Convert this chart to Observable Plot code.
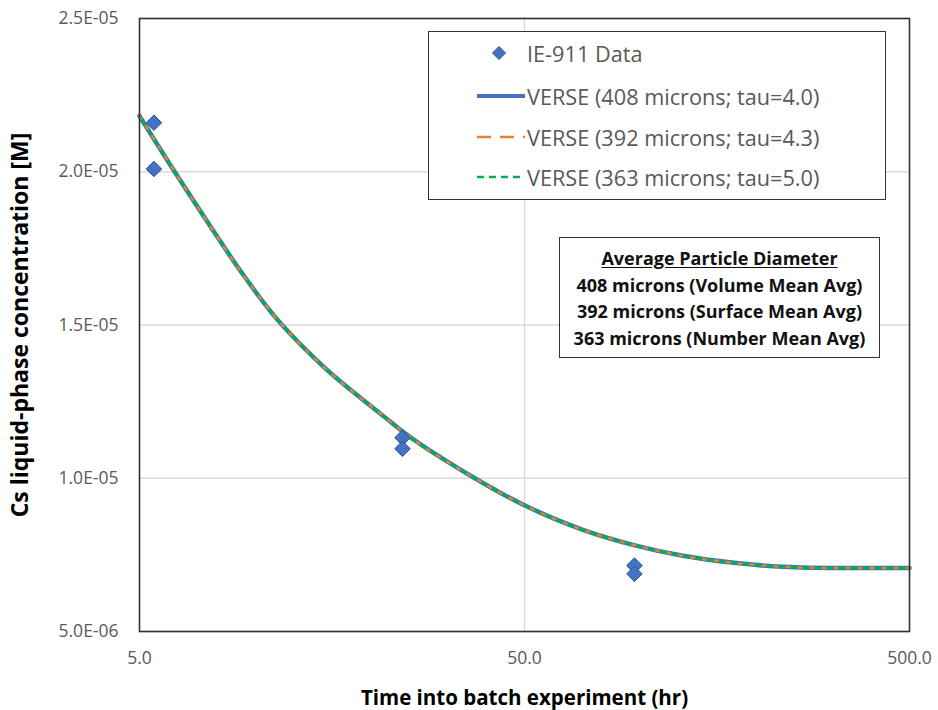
<!DOCTYPE html>
<html>
<head>
<meta charset="utf-8">
<script src="https://cdn.jsdelivr.net/npm/d3@7"></script>
<script src="https://cdn.jsdelivr.net/npm/@observablehq/plot@0.6"></script>
<style>
  body { margin: 0; background: #fff; }
  #wrap { position: relative; width: 938px; height: 710px; font-family: "Open Sans", sans-serif; }
  #wrap svg { font-family: "Open Sans", sans-serif; }
  .legend { position: absolute; left: 428px; top: 31px; width: 458px; height: 169px; border: 1.5px solid #333; background: #fff; box-sizing: border-box; }
  .legend .row { position: absolute; left: 46px; height: 24px; display: flex; align-items: center; color: #595959; font-size: 21.7px; white-space: nowrap; }
  .legend .row svg { width: 52px; height: 24px; flex: none; }
  .note { position: absolute; left: 559px; top: 237px; width: 321px; height: 121px; border: 1.5px solid #333; background: #fff; box-sizing: border-box; text-align: center; font-weight: bold; font-size: 18px; color: #111; padding-top: 7px; line-height: 26.7px; white-space: nowrap; }
  .note u { text-underline-offset: 2px; }
</style>
</head>
<body>
<div id="wrap"></div>
<script>
// Model curves (time in hr, Cs concentration in M)
const modelTime = [5.0, 6.13, 7.51, 9.15, 11.14, 14.76, 21.8, 23.8, 35.6, 50.3, 71.2, 96.2, 129, 175, 235, 318, 500];
const verse408 = [2.182e-5, 2.0055e-5, 1.836e-5, 1.676e-5, 1.533e-5, 1.373e-5, 1.197e-5, 1.158e-5, 1.014e-5, 9.10e-6, 8.31e-6, 7.82e-6, 7.47e-6, 7.24e-6, 7.11e-6, 7.07e-6, 7.07e-6];
const verse392 = [2.182e-5, 2.0055e-5, 1.836e-5, 1.676e-5, 1.533e-5, 1.373e-5, 1.197e-5, 1.158e-5, 1.014e-5, 9.10e-6, 8.31e-6, 7.82e-6, 7.47e-6, 7.24e-6, 7.11e-6, 7.07e-6, 7.07e-6];
const verse363 = [2.182e-5, 2.0055e-5, 1.836e-5, 1.676e-5, 1.533e-5, 1.373e-5, 1.197e-5, 1.158e-5, 1.014e-5, 9.10e-6, 8.31e-6, 7.82e-6, 7.47e-6, 7.24e-6, 7.11e-6, 7.07e-6, 7.07e-6];

// IE-911 experimental data
const dataTime = [5.45, 5.45, 24.1, 24.1, 96.5, 96.5];
const dataConc = [2.16e-5, 2.009e-5, 1.132e-5, 1.096e-5, 7.15e-6, 6.88e-6];

// Axis ticks
const xTicks = [5, 50, 500];
const yTicks = [5e-6, 1e-5, 1.5e-5, 2e-5, 2.5e-5];

const seriesNames = ["VERSE (408 microns; tau=4.0)", "VERSE (392 microns; tau=4.3)", "VERSE (363 microns; tau=5.0)"];
const seriesColors = ["#4472C4", "#ED7D31", "#00B050"];

const mk = (ys) => modelTime.map((t, i) => ({t, c: ys[i]}));
const pts = dataTime.map((t, i) => ({t, c: dataConc[i]}));

const fmtY = d => {
  const [m, e] = d.toExponential(1).toUpperCase().split("E");
  const sign = e[0] === "-" ? "-" : "+";
  const digits = e.replace(/[-+]/, "").padStart(2, "0");
  return `${m}E${sign}${digits}`;
};

const chart = Plot.plot({
  width: 938,
  height: 710,
  marginLeft: 139,
  marginRight: 29,
  marginTop: 18,
  marginBottom: 79,
  x: {type: "log", domain: [5, 500]},
  y: {domain: [5e-6, 2.5e-5]},
  marks: [
    Plot.gridY(yTicks, {stroke: "#d9d9d9", strokeOpacity: 1, strokeWidth: 1.3}),
    Plot.gridX([50], {stroke: "#d9d9d9", strokeOpacity: 1, strokeWidth: 1.3}),
    Plot.axisX(xTicks, {tickFormat: d => d.toFixed(1), tickSize: 0, tickPadding: 20, fontSize: 17.5, color: "#595959", label: null}),
    Plot.axisY(yTicks, {tickFormat: fmtY, tickSize: 0, tickPadding: 21, fontSize: 17.5, color: "#595959", label: null}),
    Plot.axisX({ticks: [], label: "Time into batch experiment (hr)", labelAnchor: "center", labelArrow: "none", labelOffset: 73, fontSize: 20.5, fontWeight: "bold", color: "#000"}),
    Plot.axisY({ticks: [], label: "Cs liquid-phase concentration [M]", labelAnchor: "center", labelArrow: "none", labelOffset: 128, fontSize: 23, fontWeight: "bold", color: "#000"}),
    Plot.line(mk(verse408), {x: "t", y: "c", stroke: seriesColors[0], strokeWidth: 4.5, curve: "monotone-x"}),
    Plot.line(mk(verse363), {x: "t", y: "c", stroke: seriesColors[2], strokeWidth: 3, strokeDasharray: "6 3", curve: "monotone-x"}),
    Plot.line(mk(verse392), {x: "t", y: "c", stroke: seriesColors[1], strokeWidth: 2.5, strokeDasharray: "3 9", curve: "monotone-x"}),
    Plot.dot(pts, {x: "t", y: "c", symbol: "diamond2", r: 7, fill: "#4472C4", stroke: "#2F528F", strokeWidth: 1}),
    Plot.frame({stroke: "#333", strokeWidth: 1.6})
  ]
});

const wrap = document.getElementById("wrap");
wrap.appendChild(chart);

// Legend (inside the plot area, as in the original)
const legend = document.createElement("div");
legend.className = "legend";
const rowsTop = [9, 52, 93, 133];
const entries = [
  {label: "IE-911 Data", svg: `<svg viewBox="0 0 52 24"><path d="M24,5.5 L30.5,12 L24,18.5 L17.5,12 Z" fill="#4472C4" stroke="#2F528F" stroke-width="1"/></svg>`},
  {label: seriesNames[0], svg: `<svg viewBox="0 0 52 24"><line x1="2" x2="50" y1="12" y2="12" stroke="${seriesColors[0]}" stroke-width="4"/></svg>`},
  {label: seriesNames[1], svg: `<svg viewBox="0 0 52 24"><line x1="2" x2="50" y1="12" y2="12" stroke="${seriesColors[1]}" stroke-width="2.5" stroke-dasharray="14 9"/></svg>`},
  {label: seriesNames[2], svg: `<svg viewBox="0 0 52 24"><line x1="2" x2="50" y1="12" y2="12" stroke="${seriesColors[2]}" stroke-width="2.5" stroke-dasharray="7 5"/></svg>`}
];
entries.forEach((e, i) => {
  const r = document.createElement("div");
  r.className = "row";
  r.style.top = rowsTop[i] + "px";
  r.innerHTML = e.svg + `<span>${e.label}</span>`;
  legend.appendChild(r);
});
wrap.appendChild(legend);

// Annotation box
const note = document.createElement("div");
note.className = "note";
note.innerHTML = `<u>Average Particle Diameter</u><br>408 microns (Volume Mean Avg)<br>392 microns (Surface Mean Avg)<br>363 microns (Number Mean Avg)`;
wrap.appendChild(note);
</script>
</body>
</html>
